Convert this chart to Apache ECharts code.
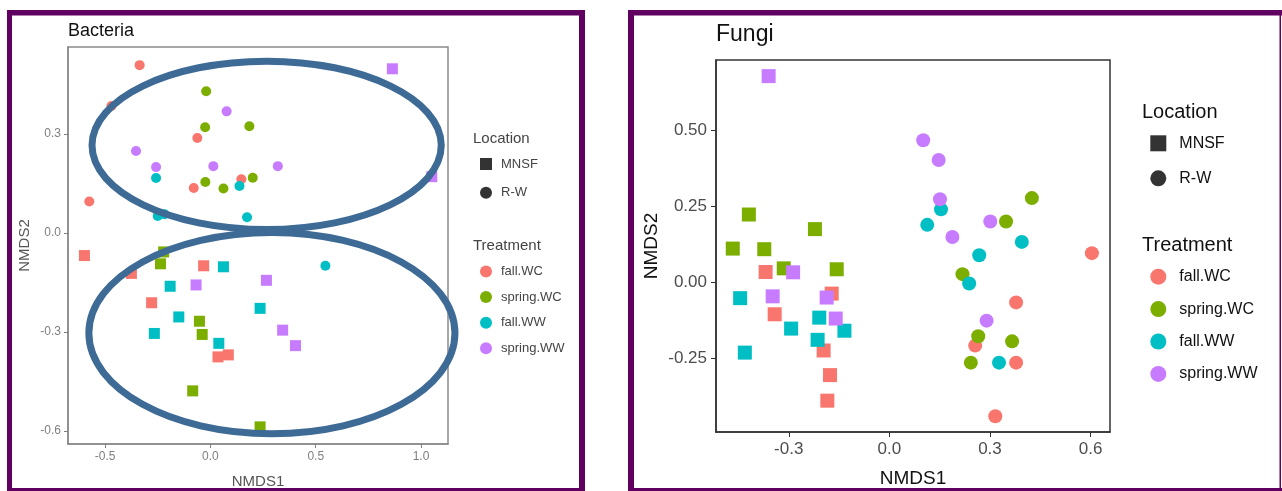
<!DOCTYPE html>
<html><head><meta charset="utf-8">
<script src="https://cdn.jsdelivr.net/npm/echarts@6/dist/echarts.min.js"></script>
<style>html,body{margin:0;padding:0;background:#fff}#c{width:1282px;height:491px}</style>
</head><body><div id="c"></div>
<script>
// ---------- categories ----------
const treatments = ['fall.WC', 'spring.WC', 'fall.WW', 'spring.WW'];
const locations = ['MNSF', 'R-W'];
const treatmentColors = ['#F8766D', '#7CAE00', '#00BFC4', '#C77CFF'];

// ---------- tick labels ----------
const bacXTicks = [-0.5, 0.0, 0.5, 1.0];
const bacYTicks = [-0.6, -0.3, 0.0, 0.3];
const fungiXTicks = [-0.3, 0.0, 0.3, 0.6];
const fungiYTicks = [-0.25, 0.0, 0.25, 0.5];

// ---------- Bacteria : R-W (circles) ----------
const bacFallWC_RW = [[-0.336, 0.509], [-0.470, 0.385], [-0.062, 0.288], [0.147, 0.163], [-0.079, 0.137], [-0.575, 0.096]];
const bacSpringWC_RW = [[-0.020, 0.430], [-0.025, 0.321], [0.185, 0.324], [0.201, 0.168], [-0.024, 0.155], [0.062, 0.135]];
const bacFallWW_RW = [[-0.258, 0.167], [0.138, 0.143], [-0.250, 0.052], [-0.218, 0.057], [0.174, 0.048], [0.546, -0.099]];
const bacSpringWW_RW = [[0.077, 0.369], [-0.353, 0.249], [-0.258, 0.200], [0.014, 0.203], [0.320, 0.203]];
// ---------- Bacteria : MNSF (squares) ----------
const bacFallWC_MNSF = [[-0.598, -0.068], [-0.375, -0.122], [-0.032, -0.099], [-0.279, -0.211], [0.036, -0.375], [0.085, -0.369]];
const bacSpringWC_MNSF = [[-0.222, -0.057], [-0.237, -0.093], [-0.052, -0.267], [-0.039, -0.307], [-0.084, -0.478], [0.236, -0.587]];
const bacFallWW_MNSF = [[0.062, -0.102], [-0.191, -0.161], [0.236, -0.228], [-0.150, -0.254], [-0.266, -0.304], [0.040, -0.334]];
const bacSpringWW_MNSF = [[0.864, 0.498], [1.051, 0.171], [-0.068, -0.157], [0.266, -0.143], [0.343, -0.294], [0.404, -0.341]];
// ---------- Bacteria : highlighted groups (cx, cy, rx, ry in data units) ----------
const bacEllipses = [[0.267, 0.266, 0.829, 0.255], [0.292, -0.303, 0.869, 0.305]];

// ---------- Fungi : R-W (circles) ----------
const fungiFallWC_RW = [[0.604, 0.096], [0.378, -0.066], [0.256, -0.208], [0.378, -0.264], [0.316, -0.440]];
const fungiSpringWC_RW = [[0.425, 0.277], [0.348, 0.200], [0.218, 0.027], [0.265, -0.177], [0.366, -0.194], [0.243, -0.264]];
const fungiFallWW_RW = [[0.154, 0.240], [0.113, 0.189], [0.395, 0.133], [0.268, 0.089], [0.238, -0.004], [0.327, -0.264]];
const fungiSpringWW_RW = [[0.101, 0.467], [0.147, 0.402], [0.151, 0.273], [0.301, 0.200], [0.188, 0.149], [0.290, -0.126]];
// ---------- Fungi : MNSF (squares) ----------
const fungiFallWC_MNSF = [[-0.369, 0.034], [-0.172, -0.037], [-0.342, -0.105], [-0.196, -0.224], [-0.177, -0.305], [-0.185, -0.389]];
const fungiSpringWC_MNSF = [[-0.419, 0.223], [-0.222, 0.175], [-0.467, 0.111], [-0.373, 0.109], [-0.315, 0.046], [-0.157, 0.043]];
const fungiFallWW_MNSF = [[-0.445, -0.052], [-0.209, -0.116], [-0.293, -0.152], [-0.134, -0.159], [-0.214, -0.189], [-0.431, -0.231]];
const fungiSpringWW_MNSF = [[-0.360, 0.678], [-0.287, 0.033], [-0.348, -0.046], [-0.187, -0.050], [-0.160, -0.119]];

const bacSets = {
  'MNSF': [bacFallWC_MNSF, bacSpringWC_MNSF, bacFallWW_MNSF, bacSpringWW_MNSF],
  'R-W': [bacFallWC_RW, bacSpringWC_RW, bacFallWW_RW, bacSpringWW_RW]
};
const fungiSets = {
  'MNSF': [fungiFallWC_MNSF, fungiSpringWC_MNSF, fungiFallWW_MNSF, fungiSpringWW_MNSF],
  'R-W': [fungiFallWC_RW, fungiSpringWC_RW, fungiFallWW_RW, fungiSpringWW_RW]
};

const FONT = 'Liberation Sans, Arial, sans-serif';
const ELLIPSE_COLOR = '#3e6a96';
const PURPLE = '#600060';

function scatterSeries(sets, gridIdx, sizes) {
  const out = [];
  locations.forEach(loc => {
    treatments.forEach((t, i) => {
      out.push({
        type: 'scatter', name: t, xAxisIndex: gridIdx, yAxisIndex: gridIdx,
        data: sets[loc][i],
        symbol: loc === 'MNSF' ? 'rect' : 'circle',
        symbolSize: loc === 'MNSF' ? sizes[0] : sizes[1],
        itemStyle: { color: treatmentColors[i], opacity: 1 },
        emphasis: { disabled: true }, silent: true, z: 3
      });
    });
  });
  return out;
}

const series = [].concat(
  scatterSeries(bacSets, 0, [11, 10]),
  scatterSeries(fungiSets, 1, [14, 14]),
  [
    { type: 'scatter', name: 'MNSF', data: [], symbol: 'rect', itemStyle: { color: '#000' }, xAxisIndex: 0, yAxisIndex: 0 },
    { type: 'scatter', name: 'R-W', data: [], symbol: 'circle', itemStyle: { color: '#000' }, xAxisIndex: 0, yAxisIndex: 0 },
    {
      type: 'custom', xAxisIndex: 0, yAxisIndex: 0, data: bacEllipses, clip: false, silent: true, z: 6,
      encode: { x: 0, y: 1 },
      renderItem: function (params, api) {
        const c = api.coord([api.value(0), api.value(1)]);
        const s = api.size([api.value(2), api.value(3)]);
        return {
          type: 'ellipse',
          shape: { cx: c[0], cy: c[1], rx: s[0], ry: s[1] },
          style: { fill: 'none', stroke: ELLIPSE_COLOR, lineWidth: 7 }
        };
      }
    }
  ]
);

function axis(gridIdx, min, max, ticks, dec, name, o) {
  return {
    type: 'value', gridIndex: gridIdx, min: min, max: max,
    splitLine: { show: false },
    axisLine: { show: true, onZero: false, lineStyle: { color: o.lineColor, width: 1.5 } },
    axisTick: { show: true, length: o.tickLen, customValues: ticks, lineStyle: { color: o.tickColor, width: 1 } },
    axisLabel: { customValues: ticks, formatter: v => v.toFixed(dec), color: o.labelColor, fontSize: o.labelSize, margin: o.margin, fontFamily: FONT },
    name: name, nameLocation: 'middle', nameGap: o.nameGap,
    nameTextStyle: { fontSize: o.nameSize, color: o.nameColor, fontFamily: FONT }
  };
}

const bacStyle = { lineColor: '#8a8a8a', tickLen: 4, tickColor: '#7f7f7f', labelColor: '#7f7f7f', labelSize: 12, margin: 7, nameSize: 15, nameColor: '#555' };
const fungiStyle = { lineColor: '#333', tickLen: 5, tickColor: '#333', labelColor: '#4d4d4d', labelSize: 17, margin: 9, nameSize: 19, nameColor: '#111' };

const legendBase = {
  orient: 'vertical', selectedMode: false, padding: 0, itemStyle: { borderWidth: 0 }
};

function band(x, y, w, h, color) {
  return { type: 'rect', shape: { x: x, y: y, width: w, height: h }, style: { fill: color || PURPLE }, silent: true, z: 100 };
}
function label(text, x, y, size, color) {
  return { type: 'text', x: x, y: y, silent: true, z: 100, style: { text: text, fontSize: size, fontFamily: FONT, fill: color, align: 'left', verticalAlign: 'middle' } };
}

const option = {
  animation: false,
  backgroundColor: '#fff',
  textStyle: { fontFamily: FONT },
  grid: [
    { left: 68, top: 47, width: 380, height: 397, outerBoundsMode: 'none', containLabel: false, show: true, borderColor: '#8a8a8a', borderWidth: 1.5, backgroundColor: 'transparent' },
    { left: 716, top: 60, width: 394, height: 372, outerBoundsMode: 'none', containLabel: false, show: true, borderColor: '#333', borderWidth: 1.5, backgroundColor: 'transparent' }
  ],
  xAxis: [
    axis(0, -0.676, 1.128, bacXTicks, 1, 'NMDS1', Object.assign({}, bacStyle, { nameGap: 30 })),
    axis(1, -0.517, 0.658, fungiXTicks, 1, 'NMDS1', Object.assign({}, fungiStyle, { nameGap: 37 }))
  ],
  yAxis: [
    axis(0, -0.639, 0.564, bacYTicks, 1, 'NMDS2', Object.assign({}, bacStyle, { nameGap: 36 })),
    axis(1, -0.492, 0.731, fungiYTicks, 2, 'NMDS2', Object.assign({}, fungiStyle, { nameGap: 55 }))
  ],
  legend: [
    Object.assign({}, legendBase, {
      left: 480, top: 157.5, itemWidth: 12, itemHeight: 12, itemGap: 15.8,
      data: [{ name: 'MNSF', icon: 'rect', itemStyle: { color: '#000' } }, { name: 'R-W', icon: 'circle', itemStyle: { color: '#000' } }],
      textStyle: { fontSize: 13, color: '#444', lineHeight: 12, padding: [0, 0, 0, 4] }
    }),
    Object.assign({}, legendBase, {
      left: 480, top: 265, itemWidth: 12, itemHeight: 12, itemGap: 12.6,
      data: treatments.map(t => ({ name: t, icon: 'circle' })),
      textStyle: { fontSize: 13, color: '#444', lineHeight: 12, padding: [0, 0, 0, 4] }
    }),
    Object.assign({}, legendBase, {
      left: 1150.3, top: 135.3, itemWidth: 16, itemHeight: 16, itemGap: 19,
      data: [{ name: 'MNSF', icon: 'rect', itemStyle: { color: '#000' } }, { name: 'R-W', icon: 'circle', itemStyle: { color: '#000' } }],
      textStyle: { fontSize: 16, color: '#111', lineHeight: 16, padding: [0, 0, 0, 8] }
    }),
    Object.assign({}, legendBase, {
      left: 1150.3, top: 268.7, itemWidth: 16, itemHeight: 16, itemGap: 16.4,
      data: treatments.map(t => ({ name: t, icon: 'circle' })),
      textStyle: { fontSize: 16, color: '#111', lineHeight: 16, padding: [0, 0, 0, 8] }
    })
  ],
  graphic: [
    // left panel frame
    band(7, 10, 5, 481), band(7, 10, 578, 5.5), band(579, 10, 6, 481), band(7, 488, 578, 3),
    // right panel frame
    band(628, 10, 6, 481), band(628, 10, 654, 5.5), band(1279.5, 10, 1.5, 481), band(628, 488, 654, 3),
    label('Bacteria', 68, 31, 18, '#111'),
    label('Location', 473, 139, 15, '#444'),
    label('Treatment', 473, 245.5, 15, '#444'),
    label('Fungi', 716, 35, 23, '#111'),
    label('Location', 1142, 112.5, 20, '#111'),
    label('Treatment', 1142, 245.5, 20, '#111')
  ],
  series: series
};

const chart = echarts.init(document.getElementById('c'), null, { renderer: 'canvas' });
chart.setOption(option);
</script>
</body></html>
